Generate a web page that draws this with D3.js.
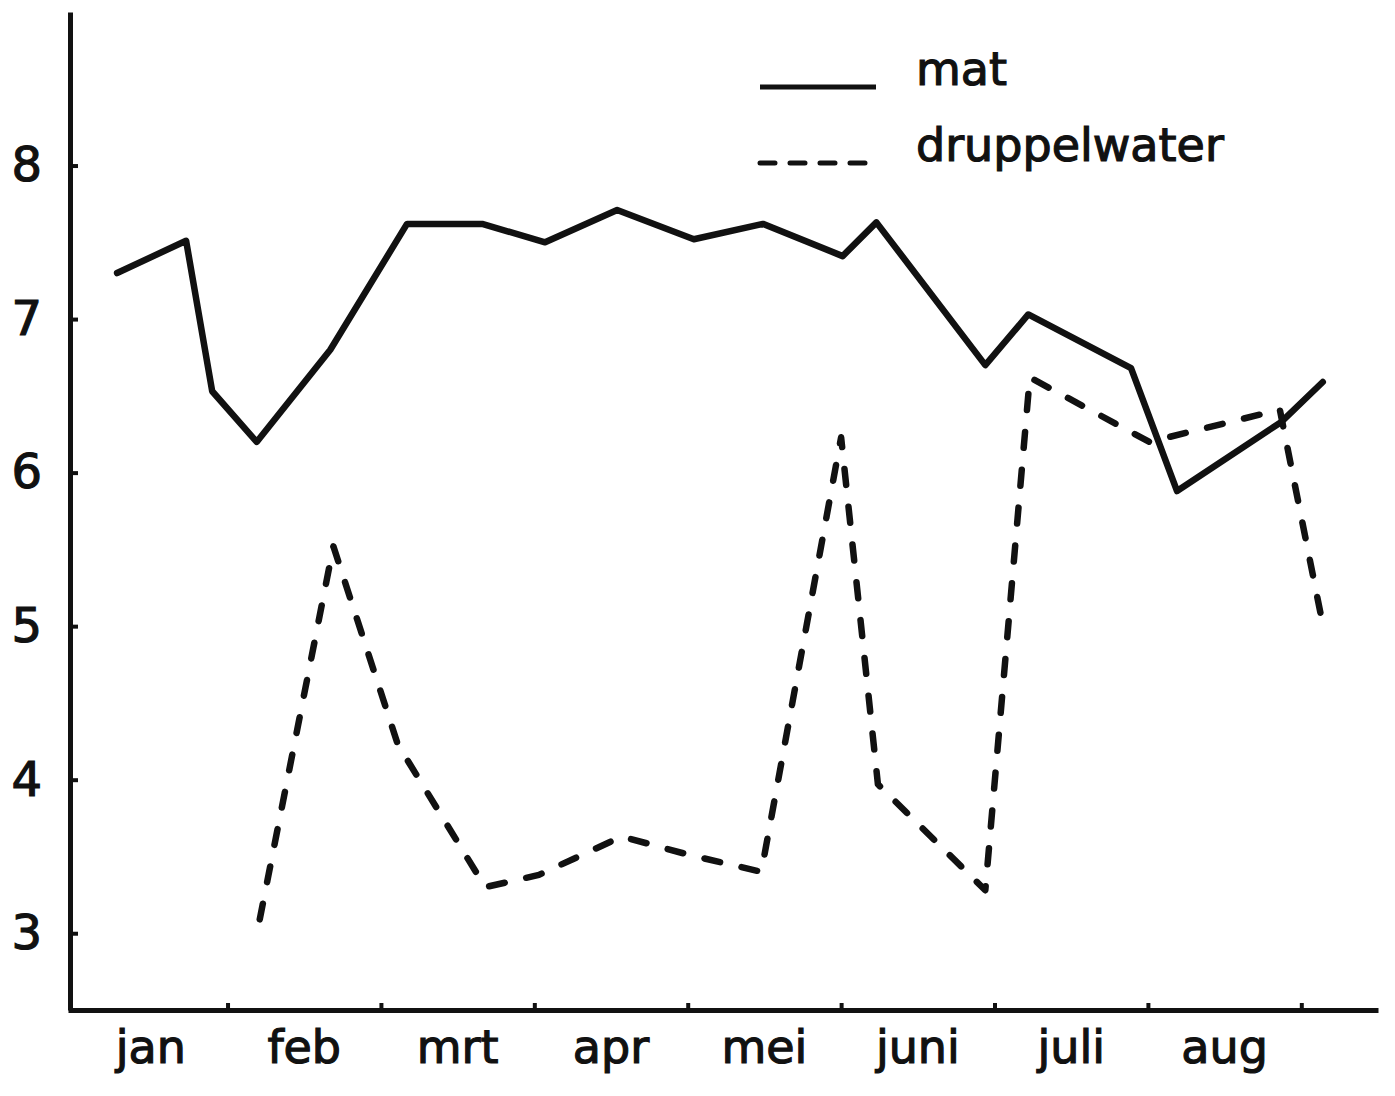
<!DOCTYPE html>
<html>
<head>
<meta charset="utf-8">
<script src="https://cdn.jsdelivr.net/npm/d3@7"></script>
<style>
  html, body { margin: 0; padding: 0; background: #fff; }
  svg text { font-family: "DejaVu Sans", sans-serif; fill: #111; stroke: #111; stroke-width: 1.2px; }
</style>
</head>
<body>
<div id="chart"></div>
<script>
// month labels along the x axis (x position = months since 1 jan)
const months = ['jan', 'feb', 'mrt', 'apr', 'mei', 'juni', 'juli', 'aug'];
const yTicks = [3, 4, 5, 6, 7, 8];

// mat (solid)
const matX = [0.28, 0.73, 0.90, 1.19, 1.67, 2.17, 2.66, 3.07, 3.54, 4.04, 4.49, 5.01, 5.23, 5.94, 6.22, 6.89, 7.19, 7.87, 8.14];
const matY = [7.30, 7.51, 6.53, 6.20, 6.80, 7.62, 7.62, 7.50, 7.71, 7.52, 7.62, 7.41, 7.63, 6.70, 7.03, 6.68, 5.88, 6.33, 6.59];

// druppelwater (dashed)
const dripX = [1.21, 1.69, 2.11, 2.68, 3.03, 3.57, 4.01, 4.48, 5.00, 5.24, 5.94, 6.23, 7.01, 7.86, 8.13];
const dripY = [3.09, 5.52, 4.23, 3.30, 3.38, 3.63, 3.51, 3.40, 6.23, 3.97, 3.28, 6.62, 6.20, 6.41, 5.06];

const series = [
  { name: 'mat', x: matX, y: matY, dash: null },
  { name: 'druppelwater', x: dripX, y: dripY, dash: '16 22' }
];

const W = 1395, H = 1096;
const svg = d3.select('#chart').append('svg')
  .attr('width', W).attr('height', H);

const x = d3.scaleLinear().domain([-0.04, 8.5]).range([68, 1378]);
const y = d3.scaleLinear().domain([2.5, 9.0]).range([1010, 12]);

// y axis, ticks pointing inward
const yAxis = svg.append('g').attr('transform', `translate(${x(-0.04) + 2},0)`)
  .call(d3.axisLeft(y).tickValues(yTicks).tickFormat(d3.format('d'))
    .tickSizeInner(-8).tickSizeOuter(0).tickPadding(28));
yAxis.select('.domain').attr('stroke', '#111').attr('stroke-width', 5);
yAxis.selectAll('.tick line').attr('stroke', '#111').attr('stroke-width', 4);
yAxis.selectAll('.tick text').attr('font-size', 48).attr('font-family', '"DejaVu Sans", sans-serif')
  .attr('fill', '#111');

// x axis, month boundaries as short upward ticks
const xAxis = svg.append('g').attr('transform', `translate(0,${y(2.5)})`)
  .call(d3.axisBottom(x).tickValues(d3.range(1, months.length + 1)).tickFormat('')
    .tickSizeInner(-7).tickSizeOuter(0));
xAxis.select('.domain').attr('stroke', '#111').attr('stroke-width', 5);
xAxis.selectAll('.tick line').attr('stroke', '#111').attr('stroke-width', 4);

svg.append('g').selectAll('text')
  .data(months)
  .join('text')
  .attr('x', (d, i) => x(i + 0.5))
  .attr('y', 1063)
  .attr('text-anchor', 'middle')
  .attr('font-size', 46)
  .text(d => d);

// lines
const line = d3.line().x(d => x(d[0])).y(d => y(d[1]));
svg.append('g').selectAll('path')
  .data(series)
  .join('path')
  .attr('d', s => line(s.x.map((v, i) => [v, s.y[i]])))
  .attr('fill', 'none')
  .attr('stroke', '#111')
  .attr('stroke-width', 6.5)
  .attr('stroke-linejoin', 'round')
  .attr('stroke-linecap', 'round')
  .attr('stroke-dasharray', s => s.dash);

// legend
const leg = svg.append('g').attr('transform', 'translate(760,87)');
leg.selectAll('line')
  .data(series)
  .join('line')
  .attr('x1', 0).attr('x2', 116)
  .attr('y1', (d, i) => i * 76).attr('y2', (d, i) => i * 76)
  .attr('stroke', '#111')
  .attr('stroke-width', 5)
  .attr('stroke-linecap', d => d.dash ? 'round' : 'butt')
  .attr('stroke-dasharray', d => d.dash ? '15 15' : null);
leg.selectAll('text')
  .data(series)
  .join('text')
  .attr('x', 156)
  .attr('y', (d, i) => i * 76 - 2)
  .attr('font-size', 46)
  .text(d => d.name);
</script>
</body>
</html>
